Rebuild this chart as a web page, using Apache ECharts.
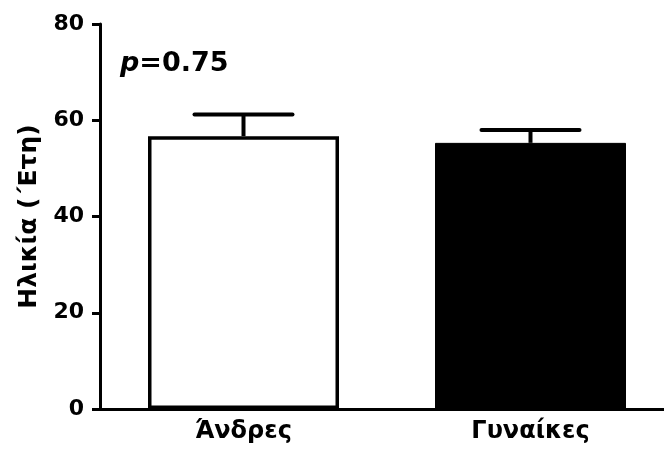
<!DOCTYPE html>
<html>
<head>
<meta charset="utf-8">
<script src="https://cdn.jsdelivr.net/npm/echarts@6/dist/echarts.min.js"></script>
<style>
  html, body { margin: 0; padding: 0; background: #fff; }
  #chart { width: 664px; height: 455px; }
</style>
</head>
<body>
<div id="chart"></div>
<script>
// Mean age by sex, with the upper end of the error bar
const categories = ['Άνδρες', 'Γυναίκες'];
const meanAge = [56.7, 55.3];
const upperAge = [61.2, 58.0];
const yTicks = [0, 20, 40, 60, 80];
const pLabel = '0.75';

const FONT = '"DejaVu Sans", Verdana, sans-serif';

const chart = echarts.init(document.getElementById('chart'));

const barData = meanAge.map((v, i) => ({
  value: v,
  itemStyle: i === 0
    ? { color: '#fff', borderColor: '#000', borderWidth: 3.5 }
    : { color: '#000', borderColor: '#000', borderWidth: 1 }
}));

chart.setOption({
  animation: false,
  backgroundColor: '#fff',
  // plot area runs a little past the right edge of the canvas
  grid: { left: 100, width: 574, top: 24, bottom: 46, outerBoundsMode: 'none', containLabel: false },
  xAxis: {
    type: 'category',
    data: categories,
    axisLine: { lineStyle: { color: '#000', width: 3 } },
    axisTick: { alignWithLabel: true, length: 8, lineStyle: { color: '#000', width: 3 } },
    axisLabel: { color: '#000', fontFamily: FONT, fontWeight: 'bold', fontSize: 24, margin: 11 }
  },
  yAxis: {
    type: 'value',
    min: yTicks[0],
    max: yTicks[yTicks.length - 1],
    interval: 20,
    name: 'Ηλικία (΄Ετη)',
    nameLocation: 'middle',
    nameRotate: 90,
    nameGap: 56,
    nameTextStyle: { color: '#000', fontFamily: FONT, fontWeight: 'bold', fontSize: 25 },
    splitLine: { show: false },
    axisLine: { show: true, lineStyle: { color: '#000', width: 3 } },
    axisTick: { show: true, length: 8, lineStyle: { color: '#000', width: 3 } },
    axisLabel: { color: '#000', fontFamily: FONT, fontWeight: 'bold', fontSize: 22, margin: 16 }
  },
  graphic: [{
    type: 'text',
    left: 120,
    top: 50,
    style: {
      text: '{i|p}{b|=' + pLabel + '}',
      rich: {
        i: { fontFamily: FONT, fontWeight: 'bold', fontStyle: 'italic', fontSize: 27, fill: '#000' },
        b: { fontFamily: FONT, fontWeight: 'bold', fontSize: 27, fill: '#000' }
      }
    }
  }],
  series: [
    {
      type: 'bar',
      data: barData,
      barWidth: 191,
      z: 2
    },
    {
      type: 'custom',
      z: 3,
      data: categories.map((c, i) => [i, meanAge[i], upperAge[i]]),
      renderItem: function (params, api) {
        const base = api.coord([api.value(0), api.value(1)]);
        const top = api.coord([api.value(0), api.value(2)]);
        const half = 49;
        const style = { stroke: '#000', lineWidth: 4, lineCap: 'round' };
        return {
          type: 'group',
          children: [
            { type: 'line', shape: { x1: top[0], y1: base[1], x2: top[0], y2: top[1] }, style: { stroke: '#000', lineWidth: 4 } },
            { type: 'line', shape: { x1: top[0] - half, y1: top[1], x2: top[0] + half, y2: top[1] }, style: style }
          ]
        };
      }
    }
  ]
});
</script>
</body>
</html>
